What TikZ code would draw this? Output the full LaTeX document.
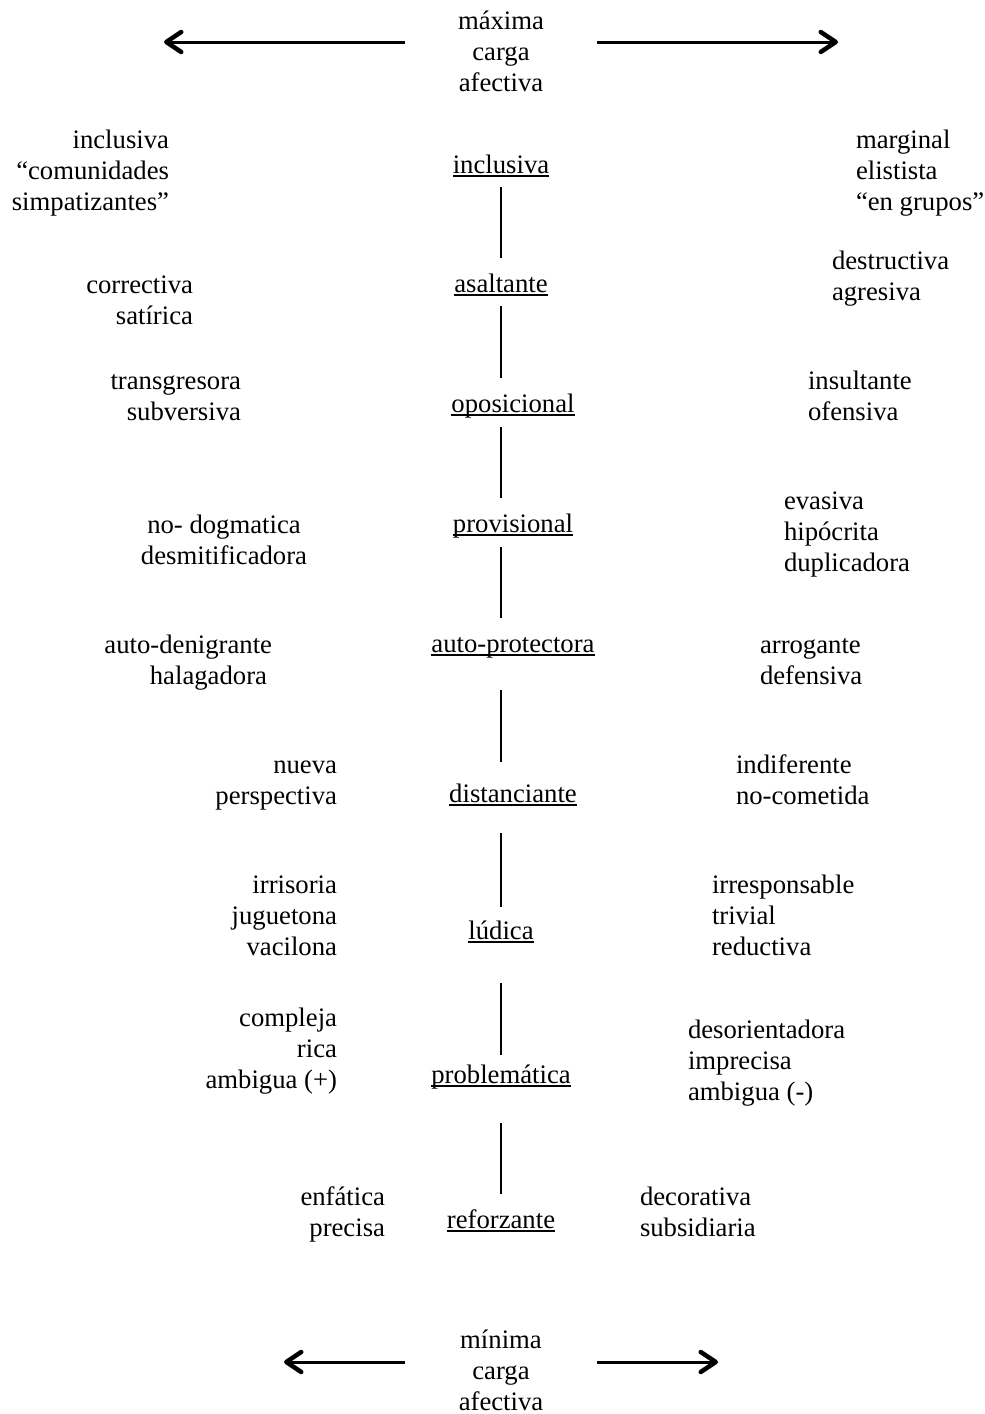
\documentclass[tikz,border=0pt]{standalone}
\usepackage{fontspec}
\setmainfont{Liberation Serif}
\usetikzlibrary{arrows.meta}
\begin{document}
\begin{tikzpicture}[x=1pt,y=-1pt,
  every node/.style={inner sep=0pt, outer sep=0pt, font=\fontsize{26.7}{31}\selectfont},
  lbl/.style={align=right, anchor=base east},
  rbl/.style={align=left, anchor=base west},
  cbl/.style={align=center, anchor=base},
  mid/.style={anchor=base},
  uline/.style={line width=1.3pt},
  vline/.style={line width=2pt},
  arr/.style={line width=3pt, -{Straight Barb[length=15pt,width=20pt,line width=4.5pt,round]}}
]
\useasboundingbox (0,0) rectangle (985,1414);

% top and bottom (base anchor = last line's baseline)
\node[cbl] (top) at (501,91) {máxima\\carga\\afectiva};
\node[cbl] (bot) at (501,1410) {mínima\\carga\\afectiva};
\coordinate (tls) at (405,42); \coordinate (tle) at (164,42);
\coordinate (trs) at (597,42); \coordinate (tre) at (838,42);
\coordinate (bls) at (405,1362); \coordinate (ble) at (284,1362);
\coordinate (brs) at (597,1362); \coordinate (bre) at (718,1362);
\draw[arr] (tls) -- (tle);
\draw[arr] (trs) -- (tre);
\draw[arr] (bls) -- (ble);
\draw[arr] (brs) -- (bre);

% centre column
\node[mid] (c1) at (501,173) {inclusiva};
\node[mid] (c2) at (501,292) {asaltante};
\node[mid] (c3) at (513,412) {oposicional};
\node[mid] (c4) at (513,532) {provisional};
\node[mid] (c5) at (513,652) {auto-protectora};
\node[mid] (c6) at (513,802) {distanciante};
\node[mid] (c7) at (501,939) {lúdica};
\node[mid] (c8) at (501,1083) {problemática};
\node[mid] (c9) at (501,1228) {reforzante};
\foreach \n in {c1,c2,c3,c4,c5,c6,c7,c8,c9}
  \draw[uline] ([yshift=-3pt]\n.base west) -- ([yshift=-3pt]\n.base east);

\draw[vline] ([yshift=-14pt]c1.base -| 501,0) -- ([yshift=34pt]c2.base -| 501,0);
\draw[vline] ([yshift=-14pt]c2.base -| 501,0) -- ([yshift=34pt]c3.base -| 501,0);
\draw[vline] ([yshift=-15pt]c3.base -| 501,0) -- ([yshift=34pt]c4.base -| 501,0);
\draw[vline] ([yshift=-15pt]c4.base -| 501,0) -- ([yshift=34pt]c5.base -| 501,0);
\draw[vline] ([yshift=-38pt]c5.base -| 501,0) -- ([yshift=40pt]c6.base -| 501,0);
\draw[vline] ([yshift=-31pt]c6.base -| 501,0) -- ([yshift=32pt]c7.base -| 501,0);
\draw[vline] ([yshift=-44pt]c7.base -| 501,0) -- ([yshift=28pt]c8.base -| 501,0);
\draw[vline] ([yshift=-40pt]c8.base -| 501,0) -- ([yshift=34pt]c9.base -| 501,0);

% left column
\node[lbl] (l1) at (169,210) {inclusiva\\“comunidades\\simpatizantes”};
\node[lbl] (l2) at (193,324) {correctiva\\satírica};
\node[lbl] (l3) at (241,420) {transgresora\\subversiva};
\node[cbl] (l4) at (224,564) {no- dogmatica\\desmitificadora};
\node[lbl] (l5) at (272,684) {auto-denigrante\\halagadora\hspace*{5pt}};
\node[lbl] (l6) at (337,804) {nueva\\perspectiva};
\node[lbl] (l7) at (337,955) {irrisoria\\juguetona\\vacilona};
\node[lbl] (l8) at (337,1088) {compleja\\rica\\ambigua (+)};
\node[lbl] (l9) at (385,1236) {enfática\\precisa};

% right column
\node[rbl] (r1) at (856,210) {marginal\\elistista\\“en grupos”};
\node[rbl] (r2) at (832,300) {destructiva\\agresiva};
\node[rbl] (r3) at (808,420) {insultante\\ofensiva};
\node[rbl] (r4) at (784,571) {evasiva\\hipócrita\\duplicadora};
\node[rbl] (r5) at (760,684) {arrogante\\defensiva};
\node[rbl] (r6) at (736,804) {indiferente\\no-cometida};
\node[rbl] (r7) at (712,955) {irresponsable\\trivial\\reductiva};
\node[rbl] (r8) at (688,1100) {desorientadora\\imprecisa\\ambigua (-)};
\node[rbl] (r9) at (640,1236) {decorativa\\subsidiaria};
\end{tikzpicture}
\end{document}
